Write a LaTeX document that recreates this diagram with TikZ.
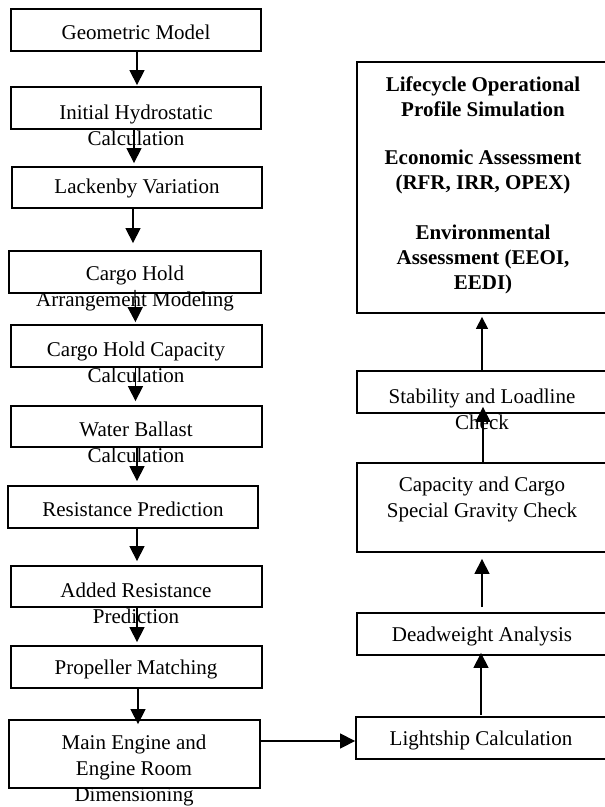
\documentclass[tikz,border=0pt]{standalone}
\usepackage{fontspec}
\setmainfont{Liberation Serif}
\usetikzlibrary{arrows.meta}
\tikzset{
  box/.style={draw=black, line width=1.8pt, fill=white, inner sep=0pt},
  txt/.style={align=center, inner sep=0pt, font=\fontsize{21}{26}\selectfont},
  btxt/.style={align=center, inner sep=0pt, font=\fontsize{21}{25}\selectfont\bfseries},
  arr/.style={line width=1.3pt, -{Triangle[length=15pt,width=15pt]}},
  sarr/.style={line width=1.3pt, -{Triangle[length=12pt,width=12pt]}}
}
\newcommand{\bx}[5]{% name, x1, x2, y1, y2
  \node[box, minimum width={#3-#2}, minimum height={#5-#4}] (#1) at ({(#2+#3)/2},{(#4+#5)/2}) {};}
\begin{document}
\begin{tikzpicture}[x=1pt,y=-1pt]
\useasboundingbox (0,0) rectangle (605,807);
% left column boxes
\bx{geo}{11}{261}{9}{51}
\bx{ihc}{11}{261}{87}{129}
\bx{lack}{12}{262}{167}{208}
\bx{cha}{9}{261}{251}{293}
\bx{chc}{11}{262}{325}{367}
\bx{wb}{11}{262}{406}{447}
\bx{rp}{8}{258}{486}{528}
\bx{ar}{11}{262}{566}{607}
\bx{pm}{11}{262}{646}{688}
\bx{me}{9}{260}{720}{788}
% right column boxes
\bx{big}{357}{608}{62}{313}
\bx{stab}{357}{608}{371}{413}
\bx{cap}{357}{608}{463}{552}
\bx{dw}{357}{608}{613}{655}
\bx{ls}{356}{608}{717}{759}
% texts
\node[txt] (geot) at (136,32) {Geometric Model};
\node[txt] (ihct) at (136,125) {Initial Hydrostatic\\Calculation};
\node[txt] (lackt) at (137,188) {Lackenby Variation};
\node[txt] (chat) at (135,288) {Cargo Hold\\Arrangement Modeling};
\node[txt] (chct) at (136,362) {Cargo Hold Capacity\\Calculation};
\node[txt] (wbt) at (136,442) {Water Ballast\\Calculation};
\node[txt] (rpt) at (133,509) {Resistance Prediction};
\node[txt] (art) at (136,603) {Added Resistance\\Prediction};
\node[txt] (pmt) at (136,669) {Propeller Matching};
\node[txt] (met) at (134,770) {Main Engine and\\Engine Room\\Dimensioning};
\node[btxt] (bigt) at (483,185) {Lifecycle Operational\\Profile Simulation\\[23pt]Economic Assessment\\(RFR, IRR, OPEX)\\[25pt]Environmental\\Assessment (EEOI,\\EEDI)};
\node[txt] (stabt) at (482,409) {Stability and Loadline\\Check};
\node[txt] (capt) at (482,499) {Capacity and Cargo\\Special Gravity Check};
\node[txt] (dwt) at (482,636) {Deadweight Analysis};
\node[txt] (lst) at (481,740) {Lightship Calculation};
% left arrows
\draw[arr, shorten >=1pt] ([xshift=1pt]geo.south) -- ([xshift=1pt]ihc.north);
\draw[arr, shorten >=3pt] ([xshift=-2pt]ihc.south) -- ([xshift=-2pt]lack.north -| ihc.south);
\draw[arr, shorten >=7pt] ([xshift=-4pt]lack.south) -- ([xshift=-2pt]cha.north);
\draw[arr, shorten <=-4pt, shorten >=2pt] ([xshift=0pt]cha.south) -- ([xshift=-1pt]chc.north);
\draw[arr, shorten >=4pt] ([xshift=-1pt]chc.south) -- ([xshift=-1pt]wb.north);
\draw[arr, shorten >=4pt] ([xshift=4pt]rp.north |- wb.south) -- ([xshift=4pt]rp.north);
\draw[arr, shorten >=4pt] ([xshift=4pt]rp.south) -- ([xshift=0.5pt]ar.north);
\draw[arr, shorten >=3pt] ([xshift=0.5pt]ar.south) -- ([xshift=0.5pt]pm.north);
\draw[arr, shorten >=-5pt] ([xshift=1.5pt]pm.south) -- ([xshift=3.5pt]me.north);
% horizontal
\draw[arr] ([yshift=13pt]me.east) -- ([yshift=-3pt]ls.west);
% right arrows
\draw[arr, shorten >=-3pt, shorten <=1pt] ([xshift=-1pt]ls.north) -- ([xshift=-1.5pt]dw.south);
\draw[arr, shorten <=5pt, shorten >=6pt] ([xshift=-0.5pt]dw.north) -- ([xshift=-0.5pt]cap.south);
\draw[arr, shorten >=-7pt] ([xshift=0.5pt]cap.north) -- ([xshift=0.5pt]stab.south);
\draw[sarr, shorten >=3pt] ([xshift=-0.5pt]stab.north) -- ([xshift=-0.5pt]big.south);
\end{tikzpicture}
\end{document}
